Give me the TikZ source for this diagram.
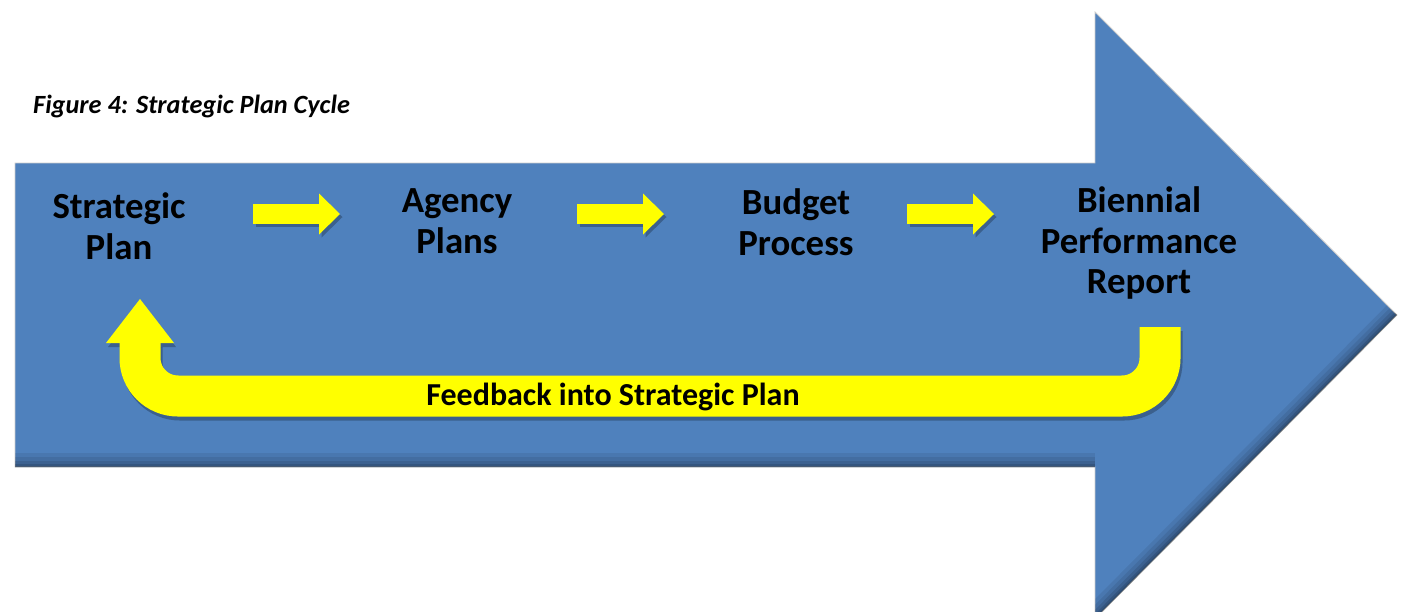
\documentclass[tikz,border=0pt]{standalone}
\usepackage{fontspec}
\setmainfont{Carlito}
\usetikzlibrary{arrows.meta,calc}
\definecolor{arrowblue}{HTML}{4F81BD}
\definecolor{fbyellow}{HTML}{FFFF00}
\begin{document}
\begin{tikzpicture}[x=1pt,y=-1pt,
  stage/.style={font=\bfseries\fontsize{36.8}{40.5}\selectfont, align=center, text=black, inner sep=0pt},
  caption/.style={font=\bfseries\itshape\fontsize{26.3}{32}\selectfont, text=black, inner sep=0pt, anchor=base west},
  fblabel/.style={font=\bfseries\fontsize{32}{38}\selectfont, text=black, inner sep=0pt, anchor=base},
  flow/.style={line width=20pt, draw=fbyellow, -{Triangle[width=41pt,length=21pt,line width=0pt]}},
  flowshadow/.style={line width=20pt, draw=black, opacity=0.25, -{Triangle[width=41pt,length=21pt,line width=0pt]}, transform canvas={shift={(2.5pt,-3pt)}}},
  feedback/.style={line width=41pt, draw=fbyellow, rounded corners=38pt, -{Triangle[width=68pt,length=44pt,line width=0pt]}},
  feedbackshadow/.style={line width=41pt, draw=black, opacity=0.25, rounded corners=38pt, -{Triangle[width=68pt,length=44pt,line width=0pt]}, transform canvas={shift={(2pt,-4pt)}}}
]
\useasboundingbox (0,0) rectangle (1404,611);

% big blue arrow
\path[fill=arrowblue, draw=black!20, line width=0.8pt]
  (15,163) -- (1095,163) -- (1095,12) -- (1397,315) -- (1095,619) -- (1095,467) -- (15,467) -- cycle;
\begin{scope}
  \clip (15,163) -- (1095,163) -- (1095,12) -- (1397,315) -- (1095,619) -- (1095,467) -- (15,467) -- cycle;
  \foreach \w/\o in {28/0.07, 20/0.08, 13/0.1, 7/0.12, 3/0.12} {
    \draw[line width=\w pt, black, opacity=\o] (15,467) -- (1095,467);
    \draw[line width=\w pt, black, opacity=\o] (1095,619) -- (1397,315);
  }
\end{scope}

% caption
\node[caption] (cap) at (33,113) {Figure 4: Strategic Plan Cycle};

% stages
\node[stage] (sp) at (119,226) {Strategic\\Plan};
\node[stage] (ap) at (457,221) {Agency\\Plans};
\node[stage] (bp) at (796,222) {Budget\\Process};
\node[stage] (br) at (1139,243) {Biennial\\Performance\\Report};

% flow arrows
\coordinate (s1) at (253,214); \coordinate (e1) at (340,214);
\coordinate (s2) at (577,214); \coordinate (e2) at (664,214);
\coordinate (s3) at (907,214); \coordinate (e3) at (994,214);
\foreach \i in {1,2,3} {
  \draw[flowshadow] (s\i) -- (e\i);
  \draw[flow] (s\i) -- (e\i);
}

% feedback arrow
\coordinate (fbs) at (1160,327);
\coordinate (fbc) at (1160,396);
\coordinate (fbd) at (140,396);
\coordinate (fbe) at (140,299);
\draw[feedbackshadow] (fbs) -- (fbc) -- (fbd) -- (fbe);
\draw[feedback] (fbs) -- (fbc) -- (fbd) -- (fbe);
\node[fblabel] (fbl) at (613,405) {Feedback into Strategic Plan};
\end{tikzpicture}
\end{document}
